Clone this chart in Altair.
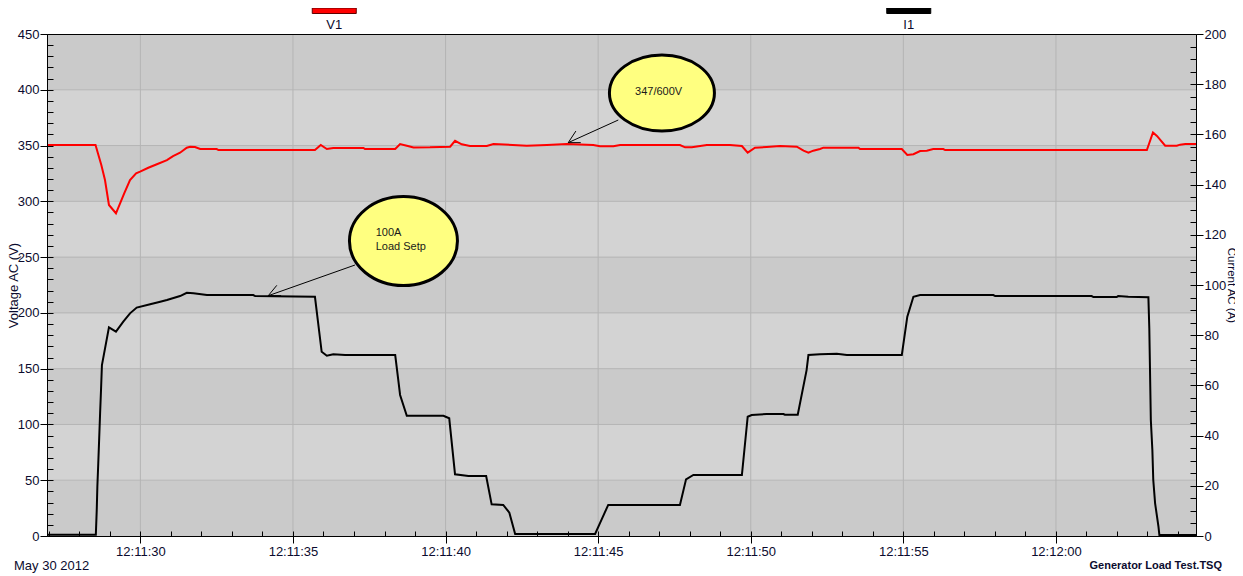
import altair as alt
import pandas as pd

# ---------------- data (time = seconds after 12:11:00, May 30 2012) ----------------
v1_time = [26.95, 28.53, 28.72, 28.84, 28.97, 29.20, 29.47, 29.66, 29.86, 29.99, 30.26, 30.54, 30.87,
           31.07, 31.30, 31.52, 31.63, 31.79, 31.96, 32.50, 32.56, 35.72, 35.91, 36.11, 36.32, 37.31,
           37.36, 38.35, 38.51, 38.73, 38.95, 39.49, 40.15, 40.31, 40.53, 40.80, 41.35, 41.57, 42.66,
           43.32, 43.97, 44.84, 45.06, 45.50, 45.72, 47.68, 47.85, 48.07, 48.56, 49.32, 49.71, 49.90,
           50.14, 50.52, 50.96, 51.51, 51.73, 51.89, 52.05, 52.27, 52.38, 53.53, 53.58, 54.95, 55.13,
           55.33, 55.55, 55.77, 55.98, 56.31, 56.37, 62.98, 63.18, 63.31, 63.58, 63.96, 64.07, 64.24,
           64.59]
v1_volts = [350.5, 350.5, 332.6, 319.1, 296.7, 289.3, 307.2, 319.1, 325.1, 326.6, 330.1, 333.2, 337.0,
            340.6, 343.6, 348.1, 349.0, 348.7, 346.9, 346.9, 346.0, 346.0, 350.5, 346.9, 347.8, 347.8,
            346.9, 346.9, 351.4, 349.9, 348.3, 348.4, 349.0, 354.3, 351.1, 349.6, 349.6, 351.4, 349.9,
            350.5, 351.4, 350.5, 349.3, 349.3, 350.5, 350.5, 348.4, 348.4, 350.5, 350.5, 349.6, 343.6,
            348.1, 348.7, 349.6, 349.0, 345.4, 343.6, 345.4, 346.9, 348.1, 348.1, 346.9, 346.9, 341.5,
            342.2, 345.1, 345.4, 346.9, 346.9, 346.0, 346.0, 361.7, 358.6, 349.9, 349.9, 350.8, 351.4,
            351.4]

i1_time = [26.95, 28.54, 28.57, 28.59, 28.62, 28.65, 28.68, 28.71, 28.74, 28.97, 29.20, 29.44, 29.66,
           29.88, 30.32, 30.65, 30.87, 31.30, 31.52, 31.74, 32.18, 33.70, 33.76, 35.72, 35.94, 36.11,
           36.32, 36.71, 38.35, 38.45, 38.51, 38.73, 39.93, 40.12, 40.31, 40.75, 41.33, 41.51, 41.89,
           42.09, 42.28, 44.90, 45.06, 45.33, 47.68, 47.88, 48.12, 49.71, 49.90, 50.03, 50.52, 51.07,
           51.12, 51.54, 51.83, 51.89, 52.27, 52.82, 53.15, 54.95, 55.13, 55.33, 55.55, 57.95, 58.01,
           61.17, 61.23, 61.99, 62.04, 62.37, 63.03, 63.06, 63.08, 63.11, 63.16, 63.19, 63.25, 63.36,
           63.39, 64.59]
i1_amps = [0.5, 0.5, 10.4, 19.6, 29.0, 38.9, 48.9, 58.2, 68.1, 83.1, 81.4, 85.4, 88.7,
           91.0, 92.3, 93.3, 94.0, 95.6, 96.9, 96.7, 96.0, 96.0, 95.6, 95.3, 73.4, 71.8,
           72.4, 72.1, 72.1, 62.2, 56.2, 47.9, 47.9, 46.9, 24.6, 23.9, 23.9, 12.6, 12.4,
           9.3, 0.8, 0.8, 5.1, 12.4, 12.4, 22.6, 24.3, 24.3, 47.5, 48.2, 48.6, 48.6,
           48.3, 48.3, 66.1, 72.1, 72.4, 72.6, 72.1, 72.1, 87.4, 95.3, 96.0, 96.0, 95.6,
           95.6, 95.2, 95.2, 95.6, 95.3, 95.1, 82.7, 68.0, 46.2, 34.3, 22.3, 13.0, 3.7,
           0.4, 0.4]

series_names = ["V1", "I1"]
series_colors = ["#FF0000", "#000000"]

x_tick_seconds = [30, 35, 40, 45, 50, 55, 60]
x_tick_labels = ["12:11:30", "12:11:35", "12:11:40", "12:11:45", "12:11:50", "12:11:55", "12:12:00"]
x_minor_seconds = list(range(27, 65))
v_ticks = list(range(0, 451, 50))
v_minor = list(range(0, 451, 10))
a_ticks = list(range(0, 201, 20))
a_minor = list(range(0, 201, 5))

band_low = [0, 50, 100, 150, 200, 250, 300, 350, 400]
band_high = [50, 100, 150, 200, 250, 300, 350, 400, 450]
band_shade = ["dark", "light", "dark", "light", "dark", "light", "dark", "light", "dark"]

# annotations (data units)
ell_time = [47.09, 38.62]
ell_volts = [397.1, 264.4]
ell_text_time = [46.98, 37.71, 37.71]
ell_text_volts = [398.0, 271.3, 259.3]
ell_text = ["347/600V", "100A", "Load Setp"]
ell_text_align = ["center", "left", "left"]
arrow_t1 = [45.66, 44.02, 44.02, 37.03, 34.19, 34.19]
arrow_v1 = [372.9, 352.6, 352.6, 242.9, 215.4, 215.4]
arrow_t2 = [44.02, 44.27, 44.43, 34.19, 34.47, 34.61]
arrow_v2 = [352.6, 363.0, 352.6, 215.4, 224.7, 215.4]

footer_left = "May 30 2012"
footer_right = "Generator Load Test.TSQ"

# ---------------- layout / style ----------------
W, H = 1149, 502
FONT = "Liberation Sans"
INK = "#0b0b2e"
GRID = "#B4B4B4"

xscale = alt.Scale(domain=[26.94, 64.59], nice=False, zero=False)
vscale = alt.Scale(domain=[0, 450], nice=False, zero=False)
ascale = alt.Scale(domain=[0, 200], nice=False, zero=False)

label_expr = "".join(f"datum.value == {s} ? '{l}' : " for s, l in zip(x_tick_seconds, x_tick_labels)) + "''"

ax = dict(grid=False, zindex=1, domainColor="black", tickColor="black", tickWidth=1,
          labelFont=FONT, labelFontSize=13, labelColor=INK, labelFlush=False, labelOverlap=False)

bands = alt.Chart(pd.DataFrame({"lo": band_low, "hi": band_high, "shade": band_shade})).mark_rect().encode(
    y=alt.Y("lo:Q", scale=vscale,
            axis=alt.Axis(orient="left", values=v_ticks, tickSize=7, labelPadding=1, domain=True,
                          title="Voltage AC (V)", titleX=-34, titleY=H / 2, titleAngle=270,
                          titleBaseline="middle", titleAlign="center", titleFont=FONT, titleFontSize=13,
                          titleFontWeight="normal", titleColor=INK, **ax)),
    y2="hi:Q",
    x=alt.value(0), x2=alt.value(W),
    color=alt.Color("shade:N", scale=alt.Scale(domain=["dark", "light"], range=["#CACACA", "#D3D3D3"]),
                    legend=None),
)

vgrid = alt.Chart(pd.DataFrame({"t": x_tick_seconds})).mark_rule(color=GRID, strokeWidth=1).encode(
    x=alt.X("t:Q", scale=xscale,
            axis=alt.Axis(orient="bottom", values=x_tick_seconds, labelExpr=label_expr, tickSize=7,
                          labelPadding=2, domain=True, title=None, **ax)),
    y=alt.value(0), y2=alt.value(H),
)

hgrid = alt.Chart(pd.DataFrame({"v": v_ticks[1:-1]})).mark_rule(color=GRID, strokeWidth=1).encode(
    y=alt.Y("v:Q", scale=vscale,
            axis=alt.Axis(orient="left", values=v_minor, tickSize=6, offset=-6, domain=False,
                          labels=False, title=None, **ax)),
    x=alt.value(0), x2=alt.value(W),
)

v_line = alt.Chart(pd.DataFrame({"t": v1_time, "v": v1_volts})).mark_line(
    color=series_colors[0], strokeWidth=2).encode(
    x=alt.X("t:Q", scale=xscale,
            axis=alt.Axis(orient="top", ticks=False, labels=False, domain=True, title=None, **ax)),
    y=alt.Y("v:Q", scale=vscale,
            axis=alt.Axis(orient="right", values=[a * 450 / 200 for a in a_minor], tickSize=6, offset=-6,
                          domain=False, labels=False, title=None, **ax)),
)

i_line = alt.Chart(pd.DataFrame({"t": i1_time, "a": i1_amps})).mark_line(
    color=series_colors[1], strokeWidth=2).encode(
    x=alt.X("t:Q", scale=xscale,
            axis=alt.Axis(orient="bottom", values=x_minor_seconds, tickSize=5, offset=-5, domain=False,
                          labels=False, title=None, **ax)),
    y=alt.Y("a:Q", scale=ascale,
            axis=alt.Axis(orient="right", values=a_ticks, tickSize=7, labelPadding=1, domain=True,
                          title="Current AC (A)", titleX=34, titleY=H / 2, titleAngle=90,
                          titleBaseline="middle", titleAlign="center", titleFont=FONT, titleFontSize=11.5,
                          titleFontWeight="normal", titleColor=INK, **ax)),
)

arrows = alt.Chart(pd.DataFrame({"t1": arrow_t1, "v1": arrow_v1, "t2": arrow_t2, "v2": arrow_v2})).mark_rule(
    color="black", strokeWidth=1).encode(
    x=alt.X("t1:Q", scale=xscale, axis=None), x2="t2:Q",
    y=alt.Y("v1:Q", scale=vscale, axis=None), y2="v2:Q",
)

ell_outer_w = [108, 111]
ell_outer_h = [79, 92]
ell_stroke = 3
ellipses = []
for i in range(len(ell_time)):
    pw = ell_outer_w[i] - ell_stroke
    ry = (ell_outer_h[i] - ell_stroke) / pw
    path = f"M-1,0A1,{ry:.4f},0,1,1,1,0A1,{ry:.4f},0,1,1,-1,0Z"
    ellipses.append(
        alt.Chart(pd.DataFrame({"t": [ell_time[i]], "v": [ell_volts[i]]})).mark_point(
            shape=path, size=pw * pw, filled=True, fill="#FFFF80", stroke="black",
            strokeWidth=ell_stroke, opacity=1, fillOpacity=1).encode(
            x=alt.X("t:Q", scale=xscale, axis=None),
            y=alt.Y("v:Q", scale=vscale, axis=None),
        )
    )

ann_texts = []
for t, v, s, al in zip(ell_text_time, ell_text_volts, ell_text, ell_text_align):
    ann_texts.append(
        alt.Chart(pd.DataFrame({"t": [t], "v": [v], "s": [s]})).mark_text(
            align=al, baseline="middle", font=FONT, fontSize=11, color="#1a1a1a").encode(
            x=alt.X("t:Q", scale=xscale, axis=None),
            y=alt.Y("v:Q", scale=vscale, axis=None),
            text="s:N",
        )
    )

legend_layers = []
for i, (name, col) in enumerate(zip(series_names, series_colors)):
    cx = W * (0.25 + 0.5 * i)
    df = pd.DataFrame({"name": [name]})
    legend_layers.append(
        alt.Chart(df).mark_rect(fill=col, stroke="#600000" if i == 0 else "black", strokeWidth=1).encode(
            x=alt.value(cx - 22), x2=alt.value(cx + 22), y=alt.value(-26), y2=alt.value(-20.5))
    )
    legend_layers.append(
        alt.Chart(df).mark_text(font=FONT, fontSize=13, color=INK, baseline="middle", align="center").encode(
            x=alt.value(cx), y=alt.value(-9), text="name:N")
    )

foot_l = alt.Chart(pd.DataFrame({"s": [footer_left]})).mark_text(
    font=FONT, fontSize=13, color=INK, align="left", baseline="middle").encode(
    x=alt.value(-33), y=alt.value(532), text="s:N")
foot_r = alt.Chart(pd.DataFrame({"s": [footer_right]})).mark_text(
    font=FONT, fontSize=11, fontWeight="bold", color=INK, align="right", baseline="middle").encode(
    x=alt.value(1175), y=alt.value(532), text="s:N")

chart = alt.layer(
    bands, vgrid, hgrid, v_line, i_line, arrows, *ellipses, *ann_texts, *legend_layers, foot_l, foot_r
).resolve_scale(
    y="independent"
).resolve_axis(
    x="independent", y="independent"
).properties(
    width=W, height=H,
    autosize=alt.AutoSizeParams(type="none"),
    padding={"left": 39, "top": 26, "right": 39, "bottom": 40},
    background="white",
).configure_view(strokeWidth=0)

chart.save("out.html", embed_options={"renderer": "svg", "actions": False})
